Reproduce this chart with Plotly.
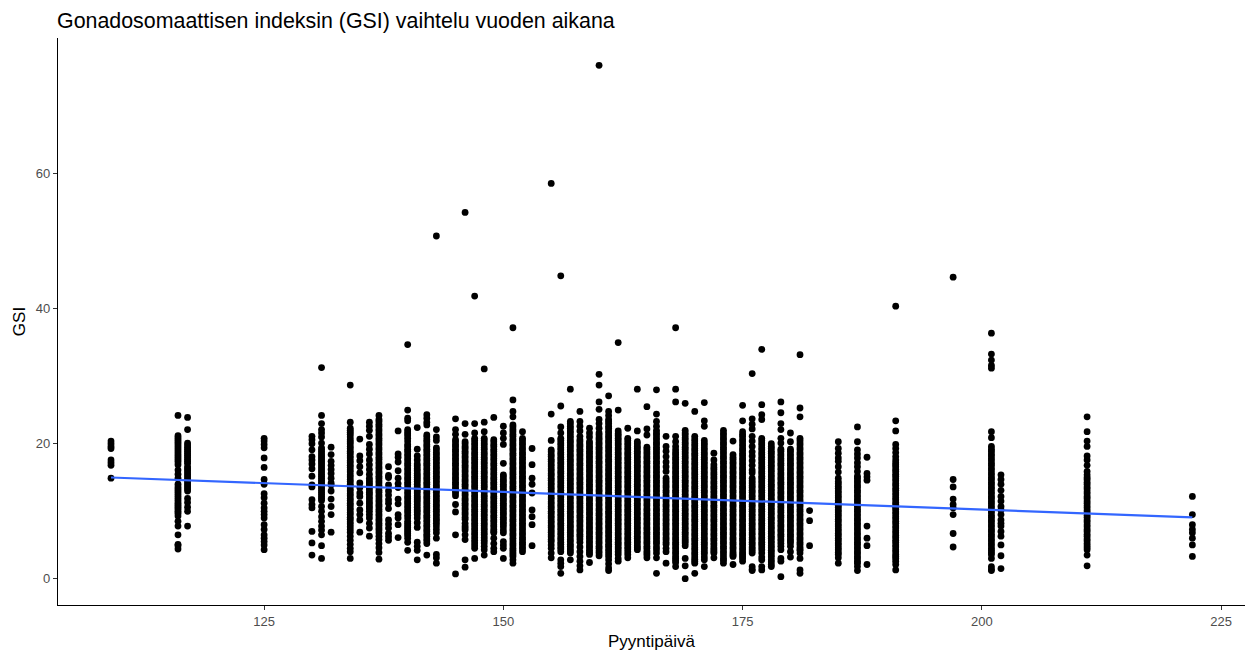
import plotly.graph_objects as go

days = [109,116,117,125,130,131,132,134,135,136,137,138,139,140,141,142,143,145,146,147,148,149,150,151,152,153,155,156,157,158,159,160,161,162,163,164,165,166,167,168,169,170,171,172,173,174,175,176,177,178,179,180,181,182,185,187,188,191,197,201,202,211,222]

d109 = [20.4,20.0,19.6,19.3,17.6,17.2,16.8,14.9]
d116 = [24.2,21.2,20.6,20.0,19.4,18.8,18.2,17.6,16.9,16.1,15.5,14.9,14.0,13.6,13.0,12.4,11.8,11.2,10.6,10.0,9.3,8.5,7.8,6.5,5.1,4.9,4.4]
d117 = [23.9,22.1,20.1,19.5,18.9,18.3,17.7,17.1,16.6,16.0,15.4,14.8,14.2,13.6,13.0,11.9,11.3,10.6,10.0,7.8]
d125 = [20.8,20.4,19.9,19.4,17.9,16.5,14.7,14.0,12.6,12.0,11.2,10.5,10.0,9.5,9.0,8.0,7.3,6.5,6.0,5.5,5.0,4.3]
d130 = [21.1,20.6,20.0,19.1,18.1,17.6,17.0,16.3,15.2,13.9,13.6,11.7,11.0,10.5,7.0,5.3,3.5]
d131 = [31.3,24.2,23.0,22.1,21.6,21.0,20.1,19.4,18.8,18.2,17.6,17.0,16.4,15.8,15.2,14.6,14.0,13.4,12.8,12.2,11.6,10.7,10.0,9.2,8.5,7.8,7.2,6.5,4.9,3.0]
d132 = [19.5,18.4,17.4,16.8,16.2,15.6,14.9,14.2,13.9,13.0,11.8,10.7,9.5,6.9]
d134 = [28.7,23.2,22.3,21.7,21.0,20.3,19.6,18.9,18.2,17.5,16.8,16.1,15.4,14.7,14.0,13.3,12.6,11.9,11.2,10.5,9.8,9.1,8.4,7.7,6.9,6.3,5.7,5.1,4.5,4.0,3.0]
d135 = [20.7,18.2,17.5,16.6,15.7,14.2,13.5,12.7,12.2,11.2,10.2,9.5,8.7,6.9]
d136 = [23.2,22.6,22.0,21.1,19.9,19.2,18.5,17.6,16.9,16.2,15.5,14.9,14.2,13.5,12.8,12.1,11.4,10.7,10.0,9.5,9.0,8.2,7.5,6.3]
d137 = [24.2,23.6,22.9,22.2,21.5,20.8,20.1,19.4,18.7,18.0,17.3,16.6,15.9,15.2,14.5,13.8,13.1,12.4,11.7,11.0,10.3,9.6,8.9,8.2,7.5,6.8,6.3,5.8,5.2,4.6,3.9,2.9]
d138 = [16.6,15.3,15.0,13.9,13.0,12.4,11.7,11.2,10.4,8.7,8.1,7.5,6.7,6.2,5.7]
d139 = [21.9,18.5,18.0,17.3,16.0,14.9,14.1,13.5,11.8,11.1,9.5,9.0,8.0,6.1]
d140 = [34.7,25.0,23.8,23.4,22.1,21.5,20.8,19.9,19.2,18.5,17.8,17.1,16.4,15.7,15.0,14.3,13.6,12.9,12.2,11.5,10.8,10.1,9.4,8.5,7.9,7.3,6.7,6.0,5.4,4.2]
d141 = [22.4,19.2,18.2,17.6,17.0,16.3,15.6,15.0,14.4,13.6,13.0,12.3,11.7,11.0,10.2,9.5,9.0,8.3,7.6,5.4,4.8,4.2,2.8]
d142 = [24.3,23.8,23.2,22.8,21.3,20.6,19.9,19.2,18.5,17.8,17.1,16.4,15.7,15.0,14.3,13.6,12.9,12.2,11.5,10.8,10.1,9.4,8.7,8.0,7.3,6.6,5.9,5.2,3.5]
d143 = [50.8,22.1,21.0,20.5,19.4,18.7,18.0,17.3,16.6,15.9,15.2,14.5,13.8,13.1,12.4,11.7,11.0,10.3,9.6,8.9,8.2,7.3,6.8,6.0,3.6,3.1,2.3]
d145 = [23.7,22.1,21.4,20.6,19.9,19.2,18.5,17.8,17.1,16.4,15.7,15.0,14.3,13.6,13.0,12.3,11.0,9.9,6.5,0.7]
d146 = [54.3,23.0,21.4,20.3,19.6,18.9,18.2,17.5,16.8,16.1,15.4,14.7,14.0,13.3,12.6,11.9,11.2,10.5,9.8,9.1,8.2,7.8,7.2,6.5,5.8,2.8,1.7]
d147 = [41.9,23.0,21.6,20.8,20.1,19.4,18.7,18.0,17.3,16.6,15.9,15.2,14.5,13.8,13.1,12.4,11.7,11.0,10.3,9.6,8.9,8.2,7.5,6.8,6.1,5.3,4.5,3.0]
d148 = [31.1,23.2,21.8,20.8,20.1,19.4,18.7,18.0,17.3,16.6,15.9,15.2,14.5,13.8,13.1,12.4,11.7,11.0,10.3,9.6,8.9,8.2,7.5,6.8,6.1,5.3,4.3,3.5]
d149 = [23.9,20.6,19.9,19.2,18.5,17.8,17.1,16.4,15.7,15.0,14.3,13.6,12.9,12.2,11.5,10.8,10.1,9.4,8.7,8.0,7.3,6.8,6.0,5.2,4.5,4.0]
d150 = [22.6,21.6,20.8,19.9,17.1,15.4,14.7,14.0,13.3,12.6,11.9,11.2,10.5,9.8,9.1,8.4,7.7,6.8,5.5,5.0,4.5,3.0]
d151 = [37.2,26.5,24.8,24.0,22.8,22.1,21.4,20.7,20.0,19.3,18.6,17.9,17.2,16.5,15.8,15.1,14.4,13.7,13.0,12.3,11.6,10.9,10.2,9.5,8.8,8.1,7.4,6.7,6.0,5.2,4.5,3.9,3.3,2.8,2.3]
d152 = [21.8,20.8,20.1,19.4,18.7,18.0,17.3,16.6,15.9,15.2,14.5,13.8,13.1,12.4,11.7,11.0,10.3,9.6,8.9,8.2,7.5,6.8,6.1,5.4,4.7,4.0]
d153 = [19.3,16.9,14.9,14.0,12.7,10.2,9.2,8.0,4.9]
d155 = [58.6,24.4,20.5,19.1,18.4,17.7,17.0,16.3,15.6,14.9,14.2,13.5,12.8,12.1,11.4,10.7,10.0,9.3,8.6,7.9,7.2,6.5,5.8,5.5,5.0,4.5,3.8,3.1]
d156 = [44.9,25.6,22.5,21.6,20.8,20.1,19.4,18.7,18.0,17.3,16.6,15.9,15.2,14.5,13.8,13.1,12.4,11.7,11.0,10.3,9.6,8.9,8.2,7.5,6.8,6.1,5.4,4.7,4.0,2.8,2.3,1.8,0.8]
d157 = [28.1,23.3,22.6,21.9,21.2,20.5,19.8,19.1,18.4,17.7,17.0,16.3,15.6,14.9,14.2,13.5,12.8,12.1,11.4,10.7,10.0,9.3,8.6,7.9,7.2,6.5,5.8,5.1,4.4,3.8,2.8]
d158 = [24.8,23.3,22.6,21.9,21.1,20.6,19.9,19.2,18.5,17.8,17.1,16.4,15.7,15.0,14.3,13.6,12.9,12.2,11.5,10.8,10.1,9.4,8.7,8.0,7.3,6.6,5.9,5.4,4.7,4.0,3.3,2.6,1.9,1.3]
d159 = [22.3,21.6,21.0,20.3,19.6,18.9,18.2,17.5,16.8,16.1,15.4,14.7,14.0,13.3,12.6,11.9,11.2,10.5,9.8,9.1,8.4,7.7,7.0,6.3,5.6,4.9,4.2,3.6,2.4]
d160 = [76.1,30.3,28.7,26.2,25.1,23.6,23.0,22.3,21.6,20.9,20.2,19.5,18.8,18.1,17.4,16.7,16.0,15.3,14.6,13.9,13.2,12.5,11.8,11.1,10.4,9.7,9.0,8.3,7.6,6.9,6.2,5.5,4.8,4.1,3.4]
d161 = [27.1,24.8,24.2,23.6,23.0,22.3,21.6,20.9,20.2,19.5,18.8,18.1,17.4,16.7,16.0,15.3,14.6,13.9,13.2,12.5,11.8,11.1,10.4,9.7,9.0,8.3,7.6,6.9,6.2,5.5,4.8,4.1,3.3,2.8,2.2,1.6,1.2]
d162 = [35.0,25.0,21.9,21.2,20.5,19.8,19.1,18.4,17.7,17.0,16.3,15.6,14.9,14.2,13.5,12.8,12.1,11.4,10.7,10.0,9.3,8.6,7.9,7.2,6.5,5.8,5.1,4.4,3.6,3.0,2.6]
d163 = [22.3,20.8,20.1,19.4,18.7,18.0,17.3,16.6,15.9,15.2,14.5,13.8,13.1,12.4,11.7,11.0,10.3,9.6,8.9,8.2,7.5,6.8,6.1,5.4,4.7,4.0,3.1]
d164 = [28.1,21.9,20.3,19.6,18.9,18.2,17.5,16.8,16.1,15.4,14.7,14.0,13.3,12.6,11.9,11.2,10.5,9.8,9.1,8.4,7.7,7.0,6.3,5.6,4.9,4.3]
d165 = [25.5,22.2,21.3,19.5,18.8,18.1,17.4,16.7,16.0,15.3,14.6,13.9,13.2,12.5,11.8,11.1,10.4,9.7,9.0,8.3,7.6,6.9,6.2,5.5,4.8,4.1,3.5,3.1]
d166 = [28.0,24.4,23.3,22.6,22.0,21.3,20.6,19.9,19.2,18.5,17.8,17.1,16.4,15.7,15.0,14.3,13.6,12.9,12.2,11.5,10.8,10.1,9.4,8.7,8.0,7.3,6.6,5.9,5.2,4.3,3.8,3.1,0.8]
d167 = [21.1,19.6,18.9,18.1,17.3,16.6,15.9,14.9,14.2,13.5,12.8,12.1,11.4,10.7,10.0,9.3,8.6,7.9,7.2,6.5,5.8,5.1,4.5,4.0,2.3]
d168 = [37.2,28.1,26.2,21.1,20.3,19.6,19.1,18.4,17.7,17.0,16.3,15.6,14.9,14.2,13.5,12.8,12.1,11.4,10.7,10.0,9.3,8.6,7.9,7.2,6.5,5.8,5.1,4.4,3.7,3.0,2.4,1.8]
d169 = [26.0,22.0,21.3,20.6,19.9,19.2,18.5,17.8,17.1,16.4,15.7,15.0,14.3,13.6,12.9,12.2,11.5,10.8,10.1,9.4,8.7,8.0,7.3,6.6,5.9,5.3,4.9,3.0,1.9,0.0]
d170 = [24.8,21.1,20.4,19.7,19.0,18.3,17.6,16.9,16.2,15.5,14.8,14.1,13.4,12.7,12.0,11.3,10.6,9.9,9.2,8.5,7.8,7.1,6.4,5.7,5.0,4.3,3.6,2.9,2.3,0.8]
d171 = [26.1,23.4,22.6,20.5,19.8,19.1,18.4,17.7,17.0,16.3,15.6,14.9,14.2,13.5,12.8,12.1,11.4,10.7,10.0,9.3,8.6,7.9,7.2,6.5,5.8,5.1,4.4,3.7,3.2,2.8,1.8]
d172 = [18.6,17.6,16.9,16.2,15.5,14.8,14.1,13.4,12.7,12.0,11.3,10.6,9.9,9.2,8.5,7.8,7.1,6.4,5.7,5.0,4.3,3.8,3.1]
d173 = [22.0,21.3,20.6,19.9,19.2,18.5,17.8,17.1,16.4,15.7,15.0,14.3,13.6,12.9,12.2,11.5,10.8,10.1,9.4,8.7,8.0,7.3,6.6,5.9,5.2,4.5,3.8,3.0,2.3]
d174 = [20.4,18.4,17.7,17.0,16.3,15.6,14.9,14.2,13.5,12.8,12.1,11.4,10.7,10.0,9.3,8.6,7.9,7.2,6.5,5.8,5.1,4.4,3.7,3.3,2.1]
d175 = [25.7,23.4,21.8,21.1,20.4,19.7,19.0,18.3,17.6,16.9,16.2,15.5,14.8,14.1,13.4,12.7,12.0,11.3,10.6,9.9,9.2,8.5,7.8,7.1,6.4,5.7,5.0,4.3,3.6,3.0,2.6]
d176 = [30.4,23.7,22.9,22.2,21.1,20.4,19.6,18.8,18.2,17.5,16.8,16.1,15.7,14.9,14.2,13.5,12.8,12.1,11.4,10.7,10.0,9.3,8.6,7.9,7.2,6.5,5.8,5.1,4.4,3.8,1.8,1.4,1.2]
d177 = [34.0,25.8,24.3,23.6,20.8,20.1,19.4,18.7,18.0,17.3,16.6,15.9,15.2,14.5,13.8,13.1,12.4,11.7,11.0,10.3,9.6,8.9,8.2,7.5,6.8,6.1,5.4,4.7,4.3,3.8,3.2,2.8,1.8,1.3]
d178 = [20.0,19.3,18.6,17.9,17.2,16.5,15.8,15.1,14.4,13.7,13.0,12.3,11.6,10.9,10.2,9.5,8.8,8.1,7.4,6.7,6.0,5.3,4.6,3.9,3.2,2.5,1.8]
d179 = [26.2,24.6,23.0,22.1,20.8,20.1,19.2,18.5,17.8,17.1,16.4,15.7,15.0,14.3,13.6,12.9,12.2,11.5,10.8,10.1,9.4,8.7,8.0,7.3,6.6,5.9,5.2,4.3,3.0,2.6,0.3]
d180 = [21.6,20.3,19.2,18.5,17.8,17.1,16.4,15.7,15.0,14.3,13.6,12.9,12.2,11.5,10.8,10.1,9.4,8.7,8.0,7.3,6.6,5.9,5.3,4.8,4.0,3.2]
d181 = [33.2,25.3,24.0,20.8,20.1,19.4,18.7,18.0,17.3,16.6,15.9,15.2,14.5,13.8,13.1,12.4,11.7,11.0,10.3,9.6,8.9,8.2,7.5,6.8,6.1,5.4,4.7,4.2,3.8,3.0,1.3,0.8]
d182 = [10.1,8.6,4.9]
d185 = [20.3,19.3,18.6,17.9,17.4,16.6,15.8,14.9,14.4,13.7,13.0,12.3,11.6,10.9,10.2,9.5,8.8,8.1,7.4,6.7,6.0,5.3,4.6,3.9,3.1,2.3]
d187 = [22.5,20.3,19.1,18.5,17.9,17.2,16.6,15.9,15.2,14.5,13.8,13.1,12.4,11.7,11.0,10.3,9.6,8.9,8.2,7.5,6.8,6.1,5.4,4.7,4.0,3.3,2.6,1.8,1.2]
d188 = [18.0,15.6,15.1,14.6,7.8,6.0,4.9,2.1]
d191 = [40.4,23.4,21.9,19.9,19.3,18.7,18.1,17.6,16.9,16.2,15.5,14.8,14.1,13.4,12.7,12.0,11.3,10.6,9.9,9.2,8.5,7.8,7.1,6.4,5.7,5.0,4.3,3.6,3.0,2.6,2.1,1.3]
d197 = [44.7,14.7,13.6,11.8,11.0,10.5,9.5,6.7,4.7]
d201 = [36.4,33.3,32.4,31.6,31.2,21.8,20.9,19.6,18.9,18.2,17.5,16.8,16.1,15.4,14.7,14.0,13.3,12.6,11.9,11.2,10.5,9.8,9.1,8.4,7.7,7.0,6.3,5.6,4.9,4.2,3.6,3.0,1.8,1.4,1.2]
d202 = [15.4,14.7,14.0,13.1,12.2,11.5,10.7,10.2,9.5,8.7,8.2,7.8,7.0,6.3,5.0,3.4,1.5]
d211 = [24.0,21.8,20.4,19.6,18.2,17.6,16.8,15.9,15.4,14.7,14.0,13.3,12.6,11.9,11.2,10.5,9.8,9.1,8.4,7.7,7.0,6.3,5.6,4.9,4.3,3.5,1.9]
d222 = [12.2,9.5,8.0,7.3,6.8,6.0,5.0,3.3]

columns = [d109,d116,d117,d125,d130,d131,d132,d134,d135,d136,d137,d138,d139,d140,d141,d142,d143,d145,d146,d147,d148,d149,d150,d151,d152,d153,d155,d156,d157,d158,d159,d160,d161,d162,d163,d164,d165,d166,d167,d168,d169,d170,d171,d172,d173,d174,d175,d176,d177,d178,d179,d180,d181,d182,d185,d187,d188,d191,d197,d201,d202,d211,d222]

# further readings inside the solid stretches of the crowded days
e116 = [20.9,20.3,19.7,19.1,18.5,17.9,17.3,13.3,12.7,12.1,11.5,10.9,10.3,9.7]
e117 = [19.8,19.2,18.6,18.0,17.4,16.3,15.7,15.1,14.5,13.9,13.3]
e131 = [19.1,18.5,17.9,17.3,16.7,16.1,15.5,14.9,14.3,13.7,13.1,12.5,11.9]
e134 = [22.0,21.4,20.6,20.0,19.3,18.6,17.9,17.2,16.5,15.8,15.1,14.4,13.7,13.0,12.3,11.6,10.9,10.2,9.5,8.8,8.1,7.3]
e136 = [14.5,13.9,13.2,12.5,11.8,11.1,10.4]
e137 = [23.3,22.6,21.9,21.2,20.5,19.8,19.1,18.4,17.7,17.0,16.3,15.6,14.9,14.2,13.5,12.8,12.1,11.4,10.7,10.0,9.3,8.6,7.9,7.2]
e140 = [21.8,21.2,20.4,19.6,18.9,18.2,17.5,16.8,16.1,15.4,14.7,14.0,13.3,12.6,11.9,11.2,10.5,9.8,9.0,8.2,7.6,7.0,6.4]
e141 = [16.7,16.0,15.3,14.7,14.0,13.3,12.7,12.0,11.4,10.6,9.9]
e142 = [21.0,20.3,19.6,18.9,18.2,17.5,16.8,16.1,15.4,14.7,14.0,13.3,12.6,11.9,11.2,10.5,9.8,9.1,8.4,7.7,7.0,6.3,5.6]
e143 = [19.1,18.4,17.7,17.0,16.3,15.6,14.9,14.2,13.5,12.8,12.1,11.4,10.7,10.0,9.3,8.6,7.8]
e145 = [20.3,19.6,18.9,18.2,17.5,16.8,16.1,15.4,14.7,14.0,13.3,12.7]
e146 = [20.0,19.3,18.6,17.9,17.2,16.5,15.8,15.1,14.4,13.7,13.0,12.3,11.6,10.9,10.2,9.5,8.8,7.5]
e147 = [20.5,19.8,19.1,18.4,17.7,17.0,16.3,15.6,14.9,14.2,13.5,12.8,12.1,11.4,10.7,10.0,9.3,8.6,7.9,7.2,6.5,5.7,4.9]
e148 = [20.5,19.8,19.1,18.4,17.7,17.0,16.3,15.6,14.9,14.2,13.5,12.8,12.1,11.4,10.7,10.0,9.3,8.6,7.9,7.2,6.5,5.7,4.8]
e149 = [20.3,19.6,18.9,18.2,17.5,16.8,16.1,15.4,14.7,14.0,13.3,12.6,11.9,11.2,10.5,9.8,9.1,8.4,7.7,7.0]
e150 = [15.1,14.4,13.7,13.0,12.3,11.6,10.9,10.2,9.5,8.8,8.1,7.2]
e151 = [22.5,21.8,21.1,20.4,19.7,19.0,18.3,17.6,16.9,16.2,15.5,14.8,14.1,13.4,12.7,12.0,11.3,10.6,9.9,9.2,8.5,7.8,7.1,6.4,5.6,4.9,4.2,3.6]
e152 = [20.5,19.8,19.1,18.4,17.7,17.0,16.3,15.6,14.9,14.2,13.5,12.8,12.1,11.4,10.7,10.0,9.3,8.6,7.9,7.2,6.5,5.8,5.1,4.4]
e155 = [18.8,18.1,17.4,16.7,16.0,15.3,14.6,13.9,13.2,12.5,11.8,11.1,10.4,9.7,9.0,8.3,7.6,6.9,6.2]
e156 = [20.5,19.8,19.1,18.4,17.7,17.0,16.3,15.6,14.9,14.2,13.5,12.8,12.1,11.4,10.7,10.0,9.3,8.6,7.9,7.2,6.5,5.8,5.1,4.4]
e157 = [23.0,22.3,21.6,20.9,20.2,19.5,18.8,18.1,17.4,16.7,16.0,15.3,14.6,13.9,13.2,12.5,11.8,11.1,10.4,9.7,9.0,8.3,7.6,6.9,6.2,5.5,4.8,4.1]
e158 = [20.3,19.6,18.9,18.2,17.5,16.8,16.1,15.4,14.7,14.0,13.3,12.6,11.9,11.2,10.5,9.8,9.1,8.4,7.7,7.0,6.3]
e159 = [20.0,19.3,18.6,17.9,17.2,16.5,15.8,15.1,14.4,13.7,13.0,12.3,11.6,10.9,10.2,9.5,8.8,8.1,7.4,6.7,6.0,5.3,4.6,3.9]
e160 = [21.3,20.6,19.9,19.2,18.5,17.8,17.1,16.4,15.7,15.0,14.3,13.6,12.9,12.2,11.5,10.8,10.1,9.4,8.7,8.0,7.3,6.6,5.9,5.2,4.5,3.8]
e161 = [23.3,22.6,21.9,21.2,20.5,19.8,19.1,18.4,17.7,17.0,16.3,15.6,14.9,14.2,13.5,12.8,12.1,11.4,10.7,10.0,9.3,8.6,7.9,7.2,6.5,5.8,5.1,4.4,3.7]
e162 = [21.5,20.8,20.1,19.4,18.7,18.0,17.3,16.6,15.9,15.2,14.5,13.8,13.1,12.4,11.7,11.0,10.3,9.6,8.9,8.2,7.5,6.8,6.1,5.4,4.7,4.0]
e163 = [20.5,19.8,19.1,18.4,17.7,17.0,16.3,15.6,14.9,14.2,13.5,12.8,12.1,11.4,10.7,10.0,9.3,8.6,7.9,7.2,6.5,5.8,5.1,4.4,3.6]
e164 = [20.0,19.3,18.6,17.9,17.2,16.5,15.8,15.1,14.4,13.7,13.0,12.3,11.6,10.9,10.2,9.5,8.8,8.1,7.4,6.7,6.0,5.3,4.6]
e165 = [19.2,18.5,17.8,17.1,16.4,15.7,15.0,14.3,13.6,12.9,12.2,11.5,10.8,10.1,9.4,8.7,8.0,7.3,6.6,5.9,5.2,4.5,3.8]
e166 = [21.6,20.9,20.2,19.5,18.8,18.1,17.4,16.7,16.0,15.3,14.6,13.9,13.2,12.5,11.8,11.1,10.4,9.7,9.0,8.3,7.6,6.9,6.2,5.5,4.7]
e167 = [14.5,13.8,13.1,12.4,11.7,11.0,10.3,9.6,8.9,8.2,7.5,6.8,6.1,5.4]
e168 = [18.7,18.0,17.3,16.6,15.9,15.2,14.5,13.8,13.1,12.4,11.7,11.0,10.3,9.6,8.9,8.2,7.5,6.8,6.1,5.4,4.7,4.0,3.3,2.7]
e169 = [21.6,20.9,20.2,19.5,18.8,18.1,17.4,16.7,16.0,15.3,14.6,13.9,13.2,12.5,11.8,11.1,10.4,9.7,9.0,8.3,7.6,6.9,6.2,5.6]
e170 = [20.7,20.0,19.3,18.6,17.9,17.2,16.5,15.8,15.1,14.4,13.7,13.0,12.3,11.6,10.9,10.2,9.5,8.8,8.1,7.4,6.7,6.0,5.3,4.6,3.9,3.2,2.6]
e171 = [20.1,19.4,18.7,18.0,17.3,16.6,15.9,15.2,14.5,13.8,13.1,12.4,11.7,11.0,10.3,9.6,8.9,8.2,7.5,6.8,6.1,5.4,4.7,4.0]
e172 = [16.5,15.8,15.1,14.4,13.7,13.0,12.3,11.6,10.9,10.2,9.5,8.8,8.1,7.4,6.7,6.0,5.3,4.6,4.0]
e173 = [21.6,20.9,20.2,19.5,18.8,18.1,17.4,16.7,16.0,15.3,14.6,13.9,13.2,12.5,11.8,11.1,10.4,9.7,9.0,8.3,7.6,6.9,6.2,5.5,4.8,4.1,3.4,2.7]
e174 = [18.0,17.3,16.6,15.9,15.2,14.5,13.8,13.1,12.4,11.7,11.0,10.3,9.6,8.9,8.2,7.5,6.8,6.1,5.4,4.7,4.0,3.5]
e175 = [21.4,20.7,20.0,19.3,18.6,17.9,17.2,16.5,15.8,15.1,14.4,13.7,13.0,12.3,11.6,10.9,10.2,9.5,8.8,8.1,7.4,6.7,6.0,5.3,4.6,3.9,3.3]
e176 = [14.5,13.8,13.1,12.4,11.7,11.0,10.3,9.6,8.9,8.2,7.5,6.8,6.1,5.4,4.7,4.1]
e177 = [20.5,19.8,19.1,18.4,17.7,17.0,16.3,15.6,14.9,14.2,13.5,12.8,12.1,11.4,10.7,10.0,9.3,8.6,7.9,7.2,6.5,5.8,5.1]
e178 = [19.6,18.9,18.2,17.5,16.8,16.1,15.4,14.7,14.0,13.3,12.6,11.9,11.2,10.5,9.8,9.1,8.4,7.7,7.0,6.3,5.6,4.9,4.2,3.5,2.8,2.1]
e179 = [18.9,18.2,17.5,16.8,16.1,15.4,14.7,14.0,13.3,12.6,11.9,11.2,10.5,9.8,9.1,8.4,7.7,7.0,6.3,5.6,4.8]
e180 = [18.9,18.2,17.5,16.8,16.1,15.4,14.7,14.0,13.3,12.6,11.9,11.2,10.5,9.8,9.1,8.4,7.7,7.0,6.3,5.6]
e181 = [20.5,19.8,19.1,18.4,17.7,17.0,16.3,15.6,14.9,14.2,13.5,12.8,12.1,11.4,10.7,10.0,9.3,8.6,7.9,7.2,6.5,5.8,5.1,4.4]
e185 = [14.1,13.4,12.7,12.0,11.3,10.6,9.9,9.2,8.5,7.8,7.1,6.4,5.7,5.0,4.3,3.6]
e187 = [14.9,14.2,13.5,12.8,12.1,11.4,10.7,10.0,9.3,8.6,7.9,7.2,6.5,5.8,5.1,4.4,3.7,3.0,2.3]
e191 = [17.2,16.6,15.9,15.2,14.5,13.8,13.1,12.4,11.7,11.0,10.3,9.6,8.9,8.2,7.5,6.8,6.1,5.4,4.7,4.0,3.3]
e201 = [19.2,18.5,17.8,17.1,16.4,15.7,15.0,14.3,13.6,12.9,12.2,11.5,10.8,10.1,9.4,8.7,8.0,7.3,6.6,5.9,5.2,4.5,3.9]
e211 = [15.0,14.3,13.6,12.9,12.2,11.5,10.8,10.1,9.4,8.7,8.0,7.3,6.6,5.9,5.2,4.6]

extra_days = [116,117,131,134,136,137,140,141,142,143,145,146,147,148,149,150,151,152,155,156,157,158,159,160,161,162,163,164,165,166,167,168,169,170,171,172,173,174,175,176,177,178,179,180,181,185,187,191,201,211]
extras = [e116,e117,e131,e134,e136,e137,e140,e141,e142,e143,e145,e146,e147,e148,e149,e150,e151,e152,e155,e156,e157,e158,e159,e160,e161,e162,e163,e164,e165,e166,e167,e168,e169,e170,e171,e172,e173,e174,e175,e176,e177,e178,e179,e180,e181,e185,e187,e191,e201,e211]

trend_x = [109, 222]
trend_y = [15.0, 9.1]

title_text = "Gonadosomaattisen indeksin (GSI) vaihtelu vuoden aikana"
x_title = "Pyyntipäivä"
y_title = "GSI"
x_ticks = [125, 150, 175, 200, 225]
y_ticks = [0, 20, 40, 60]

xs, ys = [], []
for day, vals in list(zip(days, columns)) + list(zip(extra_days, extras)):
    for v in vals:
        xs.append(day)
        ys.append(v)

FONT = "Liberation Sans, Arial, sans-serif"

fig = go.Figure()
fig.add_trace(go.Scatter(x=xs, y=ys, mode="markers",
                         marker=dict(color="#000000", size=6.8, line=dict(width=0)),
                         showlegend=False))
fig.add_trace(go.Scatter(x=trend_x, y=trend_y, mode="lines",
                         line=dict(color="#3366FF", width=2.2), showlegend=False))

axis_common = dict(showgrid=False, zeroline=False, showline=True, linecolor="#000000", linewidth=1.2,
                   ticks="outside", ticklen=4, tickwidth=1.1, tickcolor="#333333",
                   tickfont=dict(family=FONT, size=13, color="#4D4D4D"))

fig.update_layout(
    width=1245, height=651, autosize=False,
    paper_bgcolor="white", plot_bgcolor="white",
    margin=dict(l=57.5, r=0, t=38, b=46),
    font=dict(family=FONT, color="#000000"),
    title=dict(text=title_text, font=dict(family=FONT, size=21.4, color="#000000"),
               x=57 / 1245, xanchor="left", y=1 - 21 / 651, yanchor="middle"),
    xaxis=dict(range=[103.46, 227.5], tickvals=x_ticks,
               title=dict(text=x_title, font=dict(family=FONT, size=17, color="#000000"), standoff=8),
               **axis_common),
    yaxis=dict(range=[-3.9, 80.15], tickvals=y_ticks,
               title=dict(text=y_title, font=dict(family=FONT, size=17, color="#000000"), standoff=5),
               **axis_common),
)

fig.write_html("out.html", config=dict(displayModeBar=False),
               post_script="document.body.style.margin='0';document.documentElement.style.overflow='hidden';")
